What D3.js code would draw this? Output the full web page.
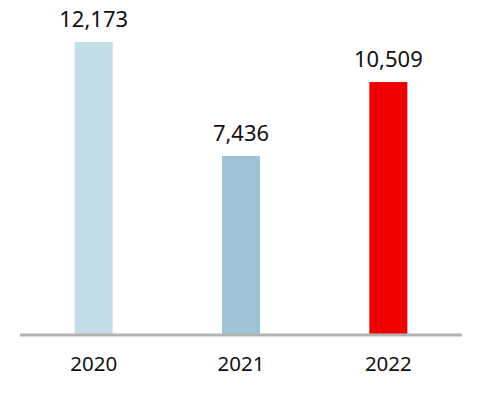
<!DOCTYPE html>
<html>
<head>
<meta charset="utf-8">
<script src="https://cdn.jsdelivr.net/npm/d3@7"></script>
<style>
  body { margin: 0; background: #fff; }
  text { font-family: "Noto Sans", sans-serif; fill: #111; }
</style>
</head>
<body>
<div id="chart"></div>
<script>
const years = ["2020", "2021", "2022"];
const values = [12173, 7436, 10509];
const colors = ["#c4dde6", "#9dc3d4", "#ee0000"];

const width = 482, height = 394;

const svg = d3.select("#chart").append("svg")
    .attr("width", width)
    .attr("height", height);

const x = d3.scaleBand()
    .domain(years)
    .range([20, 462])
    .paddingInner(0.742)
    .paddingOuter(0.371);

const y = d3.scaleLinear()
    .domain([0, 12173])
    .range([335, 42]);

const data = years.map((yr, i) => ({year: yr, value: values[i], color: colors[i]}));

svg.selectAll("rect.bar")
    .data(data)
    .enter()
    .append("rect")
    .attr("class", "bar")
    .attr("x", d => x(d.year))
    .attr("y", d => y(d.value))
    .attr("width", x.bandwidth())
    .attr("height", d => y(0) - y(d.value))
    .attr("fill", d => d.color);

// baseline
svg.append("line")
    .attr("x1", 20)
    .attr("x2", 462)
    .attr("y1", y(0))
    .attr("y2", y(0))
    .attr("stroke", "#b3b3b3")
    .attr("stroke-width", 3);

svg.selectAll("text.value")
    .data(data)
    .enter()
    .append("text")
    .attr("class", "value")
    .attr("text-anchor", "middle")
    .attr("x", d => x(d.year) + x.bandwidth() / 2)
    .attr("y", d => y(d.value) - 15)
    .style("font-size", "22px")
    .text(d => d3.format(",")(d.value));

svg.selectAll("text.year")
    .data(data)
    .enter()
    .append("text")
    .attr("class", "year")
    .attr("text-anchor", "middle")
    .attr("x", d => x(d.year) + x.bandwidth() / 2)
    .attr("y", 371)
    .style("font-size", "20.5px")
    .text(d => d.year);
</script>
</body>
</html>
